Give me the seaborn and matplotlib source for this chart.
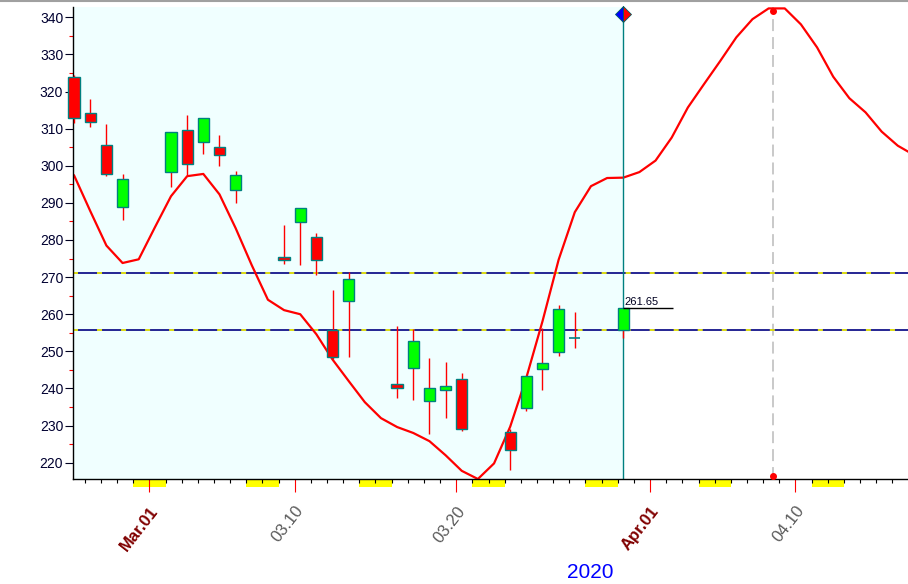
import matplotlib
matplotlib.use('Agg')
import matplotlib.pyplot as plt
import matplotlib.transforms as mtransforms
from matplotlib.patches import Rectangle
from matplotlib.lines import Line2D
from matplotlib.ticker import MultipleLocator, FixedLocator
import seaborn as sns
import numpy as np
import pandas as pd

# daily candles (Feb 25 - Mar 30, 2020)
candle_dates = ['2020-02-25', '2020-02-26', '2020-02-27', '2020-02-28',
                '2020-03-02', '2020-03-03', '2020-03-04', '2020-03-05', '2020-03-06',
                '2020-03-09', '2020-03-10', '2020-03-11', '2020-03-12', '2020-03-13',
                '2020-03-16', '2020-03-17', '2020-03-18', '2020-03-19', '2020-03-20',
                '2020-03-23', '2020-03-24', '2020-03-25', '2020-03-26', '2020-03-27',
                '2020-03-30']
opens = [323.8, 314.1, 305.5, 289.0, 298.4, 309.6, 306.3, 305.0, 293.4,
         275.3, 284.9, 280.7, 255.8, 263.5, 241.1, 245.4, 236.6, 239.5, 242.5,
         228.2, 234.6, 245.2, 249.8, 253.5, 255.8]
highs = [324.4, 318.0, 311.3, 297.8, 309.0, 313.7, 312.8, 308.3, 298.6,
         284.0, 288.5, 281.8, 266.5, 271.4, 256.8, 256.0, 248.2, 247.1, 244.1,
         229.0, 243.3, 256.3, 262.4, 260.5, 261.65]
lows = [311.6, 310.5, 297.3, 285.4, 294.4, 297.5, 303.2, 300.0, 290.1,
        273.5, 273.3, 270.6, 248.0, 248.4, 237.3, 236.9, 227.7, 232.1, 228.4,
        218.1, 233.8, 239.7, 248.8, 251.0, 253.6]
closes = [312.8, 311.7, 297.8, 296.4, 309.0, 300.4, 312.8, 302.8, 297.4,
          274.5, 288.5, 274.5, 248.4, 269.4, 240.1, 252.7, 240.1, 240.6, 229.0,
          223.4, 243.3, 246.8, 261.3, 253.5, 261.65]

# red cycle curve, one value per calendar day
curve_start = '2020-02-24'
curve_vals = [301.5, 297.4, 287.8, 278.5, 273.8, 274.8, 283.4, 291.8, 297.2, 297.8,
              292.3, 283.2, 273.2, 263.9, 261.1, 260.0, 254.6, 247.8, 242.0, 236.3,
              232.0, 229.6, 228.0, 225.8, 222.0, 217.8, 215.6, 219.8, 229.7, 242.9,
              258.1, 274.7, 287.5, 294.5, 296.7, 296.8, 298.3, 301.4, 307.6, 315.7,
              322.0, 328.2, 334.6, 339.5, 342.4, 342.4, 338.1, 331.9, 324.0, 318.2,
              314.4, 309.2, 305.4, 302.9]

level_lines = [271.0, 255.7]
last_label = '261.65'
peak_top = 341.7
peak_bottom = 216.5
major_dates = ['2020-03-01', '2020-03-10', '2020-03-20', '2020-04-01', '2020-04-10']
major_labels = ['Mar.01', '03.10', '03.20', 'Apr.01', '04.10']
year_label = '2020'

sns.set_style('white')
plt.rcParams['font.family'] = ['Liberation Sans', 'DejaVu Sans']
plt.rcParams['lines.scale_dashes'] = False

base = pd.Timestamp('2020-03-01')
off = 0.34  # position of a bar inside its day cell
cx = np.array((pd.to_datetime(candle_dates) - base).days) + off
curve_days = pd.date_range(curve_start, periods=len(curve_vals), freq='D')
curve_x = np.array((curve_days - base).days) + off
major_x = np.array((pd.to_datetime(major_dates) - base).days)
last_x = cx[-1]
peak_x = 38.61

fig = plt.figure(figsize=(9.08, 5.84), dpi=100)
ax = fig.add_axes([73.3 / 908, 1 - 479 / 584, 1 - 73.3 / 908, (479 - 7.3) / 584])
x0, x1 = -4.71, 46.97
ax.set_xlim(x0, x1)
ax.set_ylim(215.6, 342.7)

# shaded history area
ax.add_patch(Rectangle((x0, 215.6), last_x - x0, 127.1, facecolor='#f0ffff',
                       edgecolor='none', zorder=0))

# weekend marks under the axis
days = pd.date_range('2020-02-20', '2020-04-20', freq='D')
sats = days[days.dayofweek == 5]
xt = ax.get_xaxis_transform()
for s in sats:
    d = (s - base).days
    if d + 2 > x0 and d < x1:
        ax.add_patch(Rectangle((d, -0.0165), 2, 0.015, transform=xt, facecolor='#ffff00',
                               edgecolor='none', clip_on=False, zorder=0.2))

for lv in level_lines:
    ax.axhline(lv, color='#000080', lw=1.2, zorder=1.5)
    ax.axhline(lv, color='#ffff00', lw=1.2, ls=(0, (3.6, 13.7)), zorder=1.6)

sns.lineplot(x=curve_x, y=curve_vals, color='#ff0000', lw=1.6, ax=ax, zorder=2)

ax.axvline(last_x, color='#008080', lw=1, zorder=2.2)
ax.axvline(peak_x, color='#c0c0c0', lw=1.2, ls=(0, (8.6, 4.3)), zorder=1.2)

# candles
ax.vlines(cx, lows, highs, color='#ff0000', lw=1, zorder=3, clip_on=False)
opens_a, closes_a = np.array(opens), np.array(closes)
body = closes_a - opens_a
colors = np.where(body > 0, '#00ff00', '#ff0000')
solid = body != 0
bars = ax.bar(cx[solid], body[solid], bottom=opens_a[solid], width=0.7,
              color=colors[solid], edgecolor='#008080', lw=1, zorder=4)
for p in bars.patches:
    p.set_clip_on(False)
ax.hlines(opens_a[~solid], cx[~solid] - 0.35, cx[~solid] + 0.35, color='#008080', lw=1.2, zorder=4)

# last close marker
ax.hlines(closes[-1], last_x, last_x + 3.05, color='black', lw=1, zorder=4)
ax.text(last_x + 0.05, closes[-1] + 0.8, last_label, fontsize=8, color='#000020',
        ha='left', va='baseline', zorder=5)
ax.plot([last_x], [340.9], marker='D', ms=8, fillstyle='left', markerfacecolor='#0000ff',
        markerfacecoloralt='#ff0000', markeredgecolor='#006060', mew=0.6, clip_on=False, zorder=6)
ax.plot([peak_x, peak_x], [peak_top, peak_bottom], ls='none', marker='o', ms=4,
        color='#ff0000', zorder=6)

# axes styling
for side in ['top', 'right']:
    ax.spines[side].set_visible(False)
for side in ['left', 'bottom']:
    ax.spines[side].set_color('black')
    ax.spines[side].set_linewidth(1)

ax.yaxis.set_major_locator(MultipleLocator(10))
ax.yaxis.set_minor_locator(MultipleLocator(5))
ax.tick_params(axis='y', which='major', left=True, length=5.8, width=0.8, color='#000020',
               labelsize=10, labelcolor='#000030', pad=1.5, direction='out')
ax.tick_params(axis='y', which='minor', left=True, length=2.9, width=0.8, color='#ff0000',
               direction='out')

ax.xaxis.set_major_locator(FixedLocator(major_x))
ax.xaxis.set_minor_locator(MultipleLocator(1))
ax.set_xticklabels([])
ax.tick_params(axis='x', which='major', bottom=True, length=9.4, width=0.8, color='#ff0000',
               direction='out')
ax.tick_params(axis='x', which='minor', bottom=True, length=3.2, width=0.8, color='black',
               direction='out')

lab_tr = mtransforms.offset_copy(xt, fig=fig, x=6, y=-29, units='dots')
for d, lbl in zip(major_x, major_labels):
    month = not lbl[0].isdigit()
    ax.text(d, 0, lbl, transform=lab_tr, rotation=52, rotation_mode='anchor',
            ha='right', va='center', fontsize=12,
            color='#800000' if month else '#5a5a5a',
            fontweight='bold' if month else 'normal')

fig.text(590.5 / 908, 1 - 572.5 / 584, year_label, color='#0000ff', fontsize=15,
         ha='center', va='center')
fig.add_artist(Line2D([0, 1], [0.999, 0.999], color='#a0a0a0', lw=1.5))

ax.set_xlabel('')
ax.set_ylabel('')
fig.savefig('out.png', dpi=100)
